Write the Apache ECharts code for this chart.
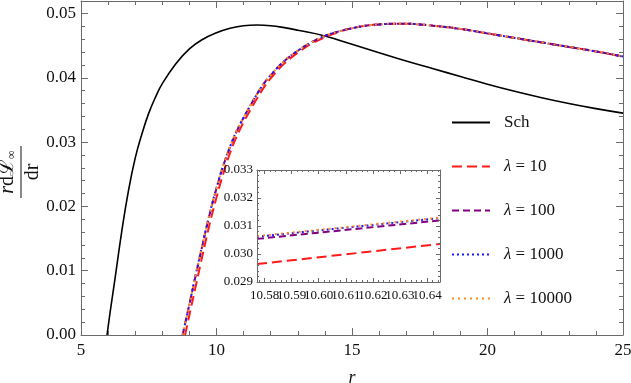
<!DOCTYPE html>
<html>
<head>
<meta charset="utf-8">
<script src="https://cdn.jsdelivr.net/npm/echarts@6/dist/echarts.min.js"></script>
<style>html,body{margin:0;padding:0;background:#fff}#c{width:631px;height:383px}</style>
</head>
<body>
<div id="c"></div>
<script>
// ---------- data ----------
const seriesNames = ['Sch', 'λ = 10', 'λ = 100', 'λ = 1000', 'λ = 10000'];

const schR = [5.96, 6.1, 6.25, 6.5, 6.75, 7.0, 7.25, 7.5, 7.75, 8.0, 8.5, 9.0, 9.5, 10.0, 10.5, 11.0, 11.5, 12.0, 12.5, 13.0, 14.0, 15.0, 16.0, 17.0, 18.0, 19.0, 20.0, 21.0, 22.0, 23.0, 24.0, 25.0];
const schV = [0, 0.0043, 0.0086, 0.0160, 0.0224, 0.0275, 0.0313, 0.0345, 0.0370, 0.0391, 0.0422, 0.0445, 0.0460, 0.0470, 0.0477, 0.0481, 0.0482, 0.0481, 0.0478, 0.0474, 0.0465, 0.0452, 0.0439, 0.0426, 0.0414, 0.0402, 0.0390, 0.0379, 0.0369, 0.0360, 0.0352, 0.0345];

const lamR = [8.75, 9.0, 9.25, 9.5, 9.75, 10.0, 10.25, 10.5, 10.75, 11.0, 11.25, 11.5, 11.75, 12.0, 12.5, 13.0, 13.5, 14.0, 14.5, 15.0, 15.5, 16.0, 16.5, 17.0, 17.5, 18.0, 19.0, 20.0, 21.0, 22.0, 23.0, 24.0, 25.0];
const lam100V = [0, 0.0048, 0.0096, 0.0143, 0.0188, 0.0228, 0.0263, 0.0292, 0.0317, 0.0338, 0.0357, 0.0375, 0.0391, 0.0404, 0.0426, 0.0442, 0.0455, 0.0465, 0.0472, 0.0477, 0.0481, 0.0483, 0.0484, 0.0484, 0.0483, 0.0481, 0.0476, 0.0469, 0.0462, 0.0455, 0.0448, 0.0441, 0.0433];
const lam1000V = [0, 0.0048, 0.0097, 0.0144, 0.0189, 0.0229, 0.0264, 0.0293, 0.0318, 0.0338, 0.0357, 0.0375, 0.0391, 0.0404, 0.0426, 0.0442, 0.0455, 0.0465, 0.0472, 0.0477, 0.0481, 0.0483, 0.0484, 0.0484, 0.0483, 0.0481, 0.0476, 0.0469, 0.0462, 0.0455, 0.0448, 0.0441, 0.0433];
const lam10000V = [0, 0.0048, 0.0097, 0.0144, 0.0189, 0.0229, 0.0264, 0.0293, 0.0318, 0.0338, 0.0357, 0.0375, 0.0391, 0.0404, 0.0426, 0.0442, 0.0455, 0.0465, 0.0472, 0.0477, 0.0481, 0.0483, 0.0484, 0.0484, 0.0483, 0.0481, 0.0476, 0.0469, 0.0462, 0.0455, 0.0448, 0.0441, 0.0433];
const lam10R = [8.84, 9.0, 9.25, 9.5, 9.75, 10.0, 10.25, 10.5, 10.75, 11.0, 11.25, 11.5, 11.75, 12.0, 12.5, 13.0, 13.5, 14.0, 14.5, 15.0, 15.5, 16.0, 16.5, 17.0, 17.5, 18.0, 19.0, 20.0, 21.0, 22.0, 23.0, 24.0, 25.0];
const lam10V = [0, 0.0031, 0.0079, 0.0127, 0.0173, 0.0214, 0.0251, 0.0283, 0.0309, 0.0331, 0.0350, 0.0368, 0.0385, 0.0399, 0.0422, 0.0439, 0.0453, 0.0463, 0.0471, 0.0477, 0.0481, 0.0483, 0.0484, 0.0484, 0.0483, 0.0481, 0.0476, 0.0469, 0.0462, 0.0455, 0.0448, 0.0441, 0.0433];

// inset (zoom) data
const insetR = [10.5772, 10.6448];
const inset10V = [0.02964, 0.03036];
const inset100V = [0.03054, 0.03120];
const inset1000V = [0.03062, 0.03128];
const inset10000V = [0.03064, 0.03130];

// ticks
const mainXTicks = [5, 10, 15, 20, 25];
const mainYTicks = [0, 0.01, 0.02, 0.03, 0.04, 0.05];
const insetXTicks = [10.58, 10.59, 10.60, 10.61, 10.62, 10.63, 10.64];
const insetXLabelsA = [10.58, 10.60, 10.62, 10.64];
const insetXLabelsB = [10.59, 10.61, 10.63];
const insetYTicks = [0.029, 0.030, 0.031, 0.032, 0.033];

// ---------- helpers ----------
function minorBetween(lo, hi, step) {
  const out = [];
  const n = Math.round((hi - lo) / step);
  for (let i = 0; i <= n; i++) out.push(+(lo + i * step).toFixed(6));
  return out;
}
const zip = (a, b) => a.map((v, i) => [v, b[i]]);

const FRAME = '#6b6b6b';
const TXT = '#111';
const SERIF = 'Liberation Serif';

function frameAxes(grid, dim, min, max, major, minor, labelsA, labelsB, fmt, fontSize, majLen, minLen, margin, z) {
  const pos = dim === 'x' ? ['bottom', 'top'] : ['left', 'right'];
  const base = {
    type: 'value', gridIndex: grid, min: min, max: max, z: z,
    splitLine: { show: false }
  };
  const lbl = (vals) => ({
    show: vals.length > 0, customValues: vals, margin: margin, hideOverlap: false,
    fontFamily: SERIF, fontSize: fontSize, color: TXT,
    formatter: v => '{a|' + fmt(v) + '}',
    rich: { a: { fontFamily: SERIF, fontSize: fontSize, color: TXT } }
  });
  return [
    Object.assign({}, base, {
      position: pos[0],
      axisLine: { show: true, onZero: false, lineStyle: { color: FRAME, width: 1 } },
      axisTick: { show: true, inside: true, length: majLen, customValues: major, lineStyle: { color: FRAME, width: 1 } },
      axisLabel: lbl(labelsA)
    }),
    Object.assign({}, base, {
      position: pos[0],
      axisLine: { show: false, onZero: false },
      axisTick: { show: true, inside: true, length: minLen, customValues: minor, lineStyle: { color: FRAME, width: 1 } },
      axisLabel: lbl(labelsB)
    }),
    Object.assign({}, base, {
      position: pos[1],
      axisLine: { show: true, onZero: false, lineStyle: { color: FRAME, width: 1 } },
      axisTick: { show: true, inside: true, length: majLen, customValues: major, lineStyle: { color: FRAME, width: 1 } },
      axisLabel: { show: false }
    }),
    Object.assign({}, base, {
      position: pos[1],
      axisLine: { show: false, onZero: false },
      axisTick: { show: true, inside: true, length: minLen, customValues: minor, lineStyle: { color: FRAME, width: 1 } },
      axisLabel: { show: false }
    })
  ];
}

const mainXMinor = minorBetween(5, 25, 1);
const mainYMinor = minorBetween(0, 0.050, 0.002);
const insetXMinor = minorBetween(10.578, 10.644, 0.002);
const insetYMinor = minorBetween(0.029, 0.033, 0.0002);

const xAxes = [].concat(
  frameAxes(0, 'x', 5, 25, mainXTicks, mainXMinor, mainXTicks, [], v => String(Math.round(v)), 17, 7, 4, 7, 2),
  frameAxes(1, 'x', 10.5772, 10.6448, insetXTicks, insetXMinor, insetXLabelsA, insetXLabelsB, v => v.toFixed(2), 13, 4, 2, 7, 6)
);
xAxes[0].name = '{i|r}';
xAxes[0].nameLocation = 'middle';
xAxes[0].nameGap = 34;
xAxes[0].nameTextStyle = { fontFamily: SERIF, fontStyle: 'italic', fontSize: 17, color: TXT,
  rich: { i: { fontFamily: SERIF, fontStyle: 'italic', fontSize: 18, color: TXT } } };

const yAxes = [].concat(
  frameAxes(0, 'y', 0, 0.05194, mainYTicks, mainYMinor, mainYTicks, [], v => v.toFixed(2), 17, 7, 4, 5, 2),
  frameAxes(1, 'y', 0.029, 0.033, insetYTicks, insetYMinor, insetYTicks, [], v => v.toFixed(3), 13, 4, 2, 4, 6)
);

const styles = [
  { color: '#000000', type: 'solid', width: 1.6 },
  { color: '#ff1a1a', type: [10, 5], width: 2 },
  { color: '#800080', type: [7, 4], width: 2 },
  { color: '#1a1aff', type: [2, 3], width: 2 },
  { color: '#ff8c1a', type: [2, 4], width: 2 }
];
const mainData = [zip(schR, schV), zip(lam10R, lam10V), zip(lamR, lam100V), zip(lamR, lam1000V), zip(lamR, lam10000V)];
const insetData = [null, zip(insetR, inset10V), zip(insetR, inset100V), zip(insetR, inset1000V), zip(insetR, inset10000V)];

const series = [];
mainData.forEach((d, i) => {
  series.push({
    type: 'line', name: seriesNames[i], data: d, xAxisIndex: 0, yAxisIndex: 0,
    smooth: 0.45, showSymbol: false, symbol: 'none', z: 2 + i * 0.1,
    lineStyle: styles[i], itemStyle: { color: styles[i].color }, animation: false
  });
});
insetData.forEach((d, i) => {
  if (!d) return;
  series.push({
    type: 'line', name: seriesNames[i], data: d, xAxisIndex: 4, yAxisIndex: 4,
    showSymbol: false, symbol: 'none', z: 5 + i * 0.1,
    lineStyle: styles[i], itemStyle: { color: styles[i].color }, animation: false
  });
});

const chart = echarts.init(document.getElementById('c'), null, { renderer: 'canvas' });
chart.setOption({
  animation: false,
  backgroundColor: '#fff',
  textStyle: { fontFamily: SERIF },
  grid: [
    { left: 81, top: 1, width: 542, height: 334, containLabel: false, outerBoundsMode: 'none' },
    { left: 257, top: 170, width: 183, height: 112, show: true, backgroundColor: '#fff', borderWidth: 0, z: 4, containLabel: false, outerBoundsMode: 'none' }
  ],
  xAxis: xAxes,
  yAxis: yAxes,
  legend: {
    orient: 'vertical', left: 451, top: 114, padding: 0,
    itemWidth: 38, itemHeight: 14, itemGap: 27,
    itemStyle: { opacity: 0 },
    data: seriesNames,
    textStyle: { fontFamily: SERIF, fontSize: 17, color: TXT, padding: [0, 0, 0, 9],
      rich: {
        i: { fontFamily: SERIF, fontStyle: 'italic', fontSize: 17, color: TXT },
        t: { fontFamily: SERIF, fontSize: 17, color: TXT }
      } },
    formatter: n => n.startsWith('λ') ? '{i|λ}{t|' + n.slice(1) + '}' : '{t|' + n + '}',
    selectedMode: false
  },
  graphic: [{
    type: 'group', x: 21, y: 172, rotation: Math.PI / 2,
    children: [
      { type: 'text', x: 0, y: -3, style: {
          text: '{i|r}{n|dℒ}{s|∞}', align: 'center', verticalAlign: 'bottom', fill: TXT,
          rich: {
            i: { fontFamily: SERIF, fontStyle: 'italic', fontSize: 20, color: TXT },
            n: { fontFamily: SERIF, fontSize: 20, color: TXT },
            s: { fontFamily: SERIF, fontSize: 12, color: TXT, verticalAlign: 'bottom', padding: [8, 0, 0, 0] }
          } } },
      { type: 'line', shape: { x1: -26, y1: 0, x2: 26, y2: 0 }, style: { stroke: TXT, lineWidth: 1 } },
      { type: 'text', x: 0, y: 2, style: { text: 'dr', fontFamily: SERIF, fontSize: 20, fill: TXT, align: 'center', verticalAlign: 'top' } }
    ]
  }],
  series: series
});
</script>
</body>
</html>
